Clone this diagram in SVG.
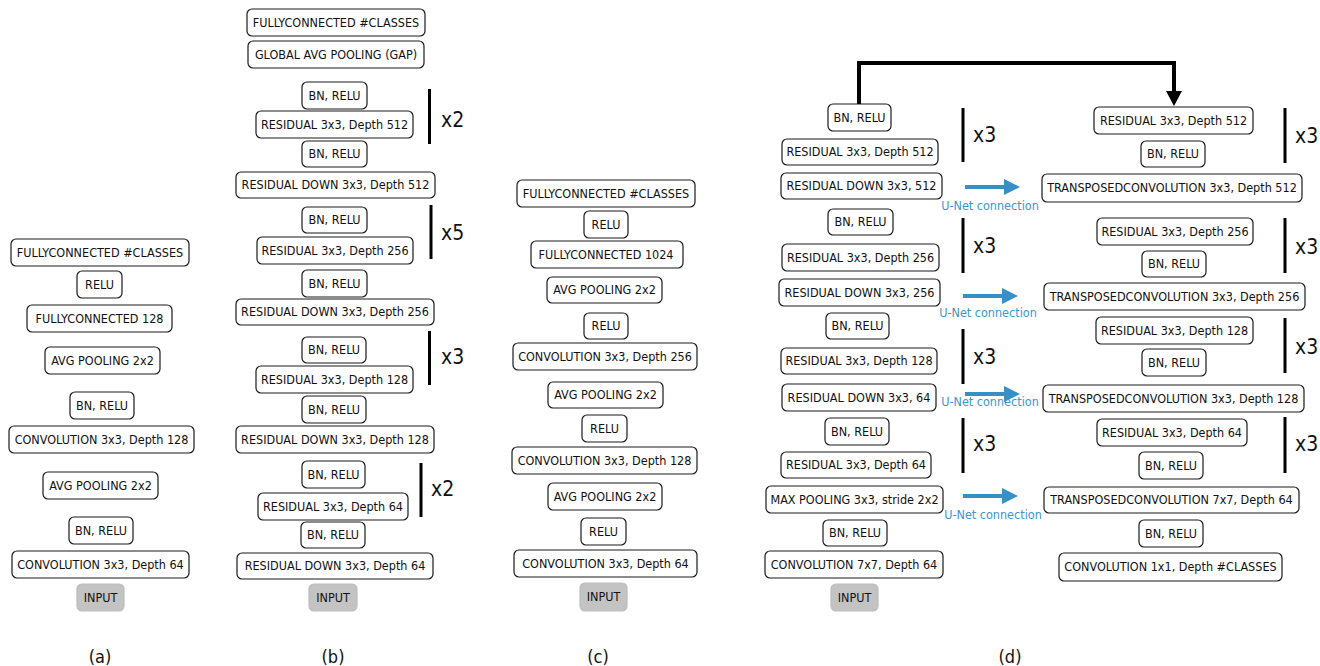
<svg xmlns="http://www.w3.org/2000/svg" width="1320" height="666" viewBox="0 0 1320 666">
<style>
.b rect{fill:#fff;stroke:#1a1a1a;stroke-width:1.2}
.b.in rect{fill:#c3c3c3;stroke:#bdbdbd}
text{font-family:"Liberation Sans",Arial,sans-serif;fill:#111}
.b text{font-family:"DejaVu Sans Condensed","DejaVu Sans",sans-serif;font-stretch:condensed;font-size:12.5px;text-anchor:middle}
.rep{font-family:"DejaVu Sans Condensed","DejaVu Sans",sans-serif;font-stretch:condensed;font-size:21px}
.cap{font-family:"DejaVu Sans Condensed","DejaVu Sans",sans-serif;font-stretch:condensed;font-size:18px;text-anchor:middle}
.un{font-family:"DejaVu Sans Condensed","DejaVu Sans",sans-serif;font-stretch:condensed;font-size:12.5px;fill:#3a96d0;text-anchor:middle}
.bar{stroke:#000;stroke-width:3}
.blue{stroke:#3590c8;stroke-width:4;fill:none}
</style>
<defs>
<marker id="bh" markerUnits="userSpaceOnUse" markerWidth="16" markerHeight="16" refX="6" refY="8" orient="auto">
<path d="M0,0 L16,8 L0,16 z" fill="#3590c8"/>
</marker>
</defs>
<rect width="1320" height="666" fill="#fff"/>

<!-- column a -->
<g id="a1" class="b"><rect x="11" y="239" width="178" height="27" rx="5"/><text x="100" y="256.5">FULLYCONNECTED #CLASSES</text></g>
<g id="a2" class="b"><rect x="77" y="271" width="45" height="27" rx="5"/><text x="99.5" y="288.5">RELU</text></g>
<g id="a3" class="b"><rect x="27" y="305" width="145" height="27" rx="5"/><text x="99.5" y="322.5">FULLYCONNECTED 128</text></g>
<g id="a4" class="b"><rect x="45" y="347" width="115" height="27" rx="5"/><text x="102.5" y="364.5">AVG POOLING 2x2</text></g>
<g id="a5" class="b"><rect x="70" y="392" width="64" height="27" rx="5"/><text x="102" y="409.5">BN, RELU</text></g>
<g id="a6" class="b"><rect x="9" y="426" width="185" height="27" rx="5"/><text x="101.5" y="443.5">CONVOLUTION 3x3, Depth 128</text></g>
<g id="a7" class="b"><rect x="43" y="472" width="115" height="27" rx="5"/><text x="100.5" y="489.5">AVG POOLING 2x2</text></g>
<g id="a8" class="b"><rect x="69" y="517" width="64" height="27" rx="5"/><text x="101" y="534.5">BN, RELU</text></g>
<g id="a9" class="b"><rect x="12" y="551" width="177" height="27" rx="5"/><text x="100.5" y="568.5">CONVOLUTION 3x3, Depth 64</text></g>
<g id="a10" class="b in"><rect x="77" y="584" width="47" height="27" rx="5"/><text x="100.5" y="601.5">INPUT</text></g>

<!-- column b -->
<g id="b1" class="b"><rect x="247" y="9" width="178" height="27" rx="5"/><text x="336" y="26.5">FULLYCONNECTED #CLASSES</text></g>
<g id="b2" class="b"><rect x="248" y="41" width="176" height="27" rx="5"/><text x="336" y="58.5">GLOBAL AVG POOLING (GAP)</text></g>
<g id="b3" class="b"><rect x="302" y="82" width="65" height="27" rx="5"/><text x="334.5" y="99.5">BN, RELU</text></g>
<g id="b4" class="b"><rect x="256" y="111" width="157" height="27" rx="5"/><text x="334.5" y="128.5">RESIDUAL 3x3, Depth 512</text></g>
<g id="b5" class="b"><rect x="302" y="141" width="65" height="26" rx="5"/><text x="334.5" y="158">BN, RELU</text></g>
<g id="b6" class="b"><rect x="236" y="172" width="199" height="26" rx="5"/><text x="335.5" y="189">RESIDUAL DOWN 3x3, Depth 512</text></g>
<g id="b7" class="b"><rect x="302" y="207" width="65" height="26" rx="5"/><text x="334.5" y="224">BN, RELU</text></g>
<g id="b8" class="b"><rect x="257" y="237" width="156" height="27" rx="5"/><text x="335" y="254.5">RESIDUAL 3x3, Depth 256</text></g>
<g id="b9" class="b"><rect x="302" y="270" width="65" height="27" rx="5"/><text x="334.5" y="287.5">BN, RELU</text></g>
<g id="b10" class="b"><rect x="236" y="299" width="198" height="26" rx="5"/><text x="335" y="316">RESIDUAL DOWN 3x3, Depth 256</text></g>
<g id="b11" class="b"><rect x="302" y="337" width="64" height="26" rx="5"/><text x="334" y="354">BN, RELU</text></g>
<g id="b12" class="b"><rect x="256" y="366" width="157" height="27" rx="5"/><text x="334.5" y="383.5">RESIDUAL 3x3, Depth 128</text></g>
<g id="b13" class="b"><rect x="302" y="396" width="64" height="27" rx="5"/><text x="334" y="413.5">BN, RELU</text></g>
<g id="b14" class="b"><rect x="236" y="426" width="198" height="27" rx="5"/><text x="335" y="443.5">RESIDUAL DOWN 3x3, Depth 128</text></g>
<g id="b15" class="b"><rect x="302" y="461" width="63" height="27" rx="5"/><text x="333.5" y="478.5">BN, RELU</text></g>
<g id="b16" class="b"><rect x="258" y="493" width="150" height="27" rx="5"/><text x="333" y="510.5">RESIDUAL 3x3, Depth 64</text></g>
<g id="b17" class="b"><rect x="301" y="522" width="64" height="26" rx="5"/><text x="333" y="539">BN, RELU</text></g>
<g id="b18" class="b"><rect x="237" y="553" width="196" height="26" rx="5"/><text x="335" y="570">RESIDUAL DOWN 3x3, Depth 64</text></g>
<g id="b19" class="b in"><rect x="309" y="584" width="48" height="27" rx="5"/><text x="333" y="601.5">INPUT</text></g>

<!-- column c -->
<g id="c1" class="b"><rect x="517" y="180" width="178" height="27" rx="5"/><text x="606" y="197.5">FULLYCONNECTED #CLASSES</text></g>
<g id="c2" class="b"><rect x="584" y="211" width="44" height="27" rx="5"/><text x="606" y="228.5">RELU</text></g>
<g id="c3" class="b"><rect x="531" y="241" width="152" height="27" rx="5"/><text x="606" y="258.5">FULLYCONNECTED 1024</text></g>
<g id="c4" class="b"><rect x="547" y="277" width="115" height="26" rx="5"/><text x="604.5" y="294">AVG POOLING 2x2</text></g>
<g id="c5" class="b"><rect x="584" y="313" width="44" height="26" rx="5"/><text x="606" y="330">RELU</text></g>
<g id="c6" class="b"><rect x="513" y="343" width="184" height="27" rx="5"/><text x="605" y="360.5">CONVOLUTION 3x3, Depth 256</text></g>
<g id="c7" class="b"><rect x="548" y="382" width="115" height="26" rx="5"/><text x="605.5" y="399">AVG POOLING 2x2</text></g>
<g id="c8" class="b"><rect x="582" y="415" width="45" height="27" rx="5"/><text x="604.5" y="432.5">RELU</text></g>
<g id="c9" class="b"><rect x="512" y="447" width="185" height="27" rx="5"/><text x="604.5" y="464.5">CONVOLUTION 3x3, Depth 128</text></g>
<g id="c10" class="b"><rect x="548" y="483" width="114" height="27" rx="5"/><text x="605" y="500.5">AVG POOLING 2x2</text></g>
<g id="c11" class="b"><rect x="581" y="518" width="45" height="27" rx="5"/><text x="603.5" y="535.5">RELU</text></g>
<g id="c12" class="b"><rect x="514" y="550" width="183" height="27" rx="5"/><text x="605.5" y="567.5">CONVOLUTION 3x3, Depth 64</text></g>
<g id="c13" class="b in"><rect x="580" y="583" width="47" height="28" rx="5"/><text x="603.5" y="601">INPUT</text></g>

<!-- column d, encoder -->
<g id="d1" class="b"><rect x="828" y="104" width="63" height="27" rx="5"/><text x="859.5" y="121.5">BN, RELU</text></g>
<g id="d2" class="b"><rect x="782" y="139" width="156" height="26" rx="5"/><text x="860" y="156">RESIDUAL 3x3, Depth 512</text></g>
<g id="d3" class="b"><rect x="781" y="173" width="161" height="26" rx="5"/><text x="861.5" y="190">RESIDUAL DOWN 3x3, 512</text></g>
<g id="d4" class="b"><rect x="828" y="209" width="65" height="26" rx="5"/><text x="860.5" y="226">BN, RELU</text></g>
<g id="d5" class="b"><rect x="782" y="244" width="157" height="27" rx="5"/><text x="860.5" y="261.5">RESIDUAL 3x3, Depth 256</text></g>
<g id="d6" class="b"><rect x="779" y="279" width="161" height="27" rx="5"/><text x="859.5" y="296.5">RESIDUAL DOWN 3x3, 256</text></g>
<g id="d7" class="b"><rect x="826" y="313" width="63" height="26" rx="5"/><text x="857.5" y="330">BN, RELU</text></g>
<g id="d8" class="b"><rect x="781" y="348" width="156" height="26" rx="5"/><text x="859" y="365">RESIDUAL 3x3, Depth 128</text></g>
<g id="d9" class="b"><rect x="782" y="384" width="154" height="27" rx="5"/><text x="859" y="401.5">RESIDUAL DOWN 3x3, 64</text></g>
<g id="d10" class="b"><rect x="825" y="418" width="64" height="27" rx="5"/><text x="857" y="435.5">BN, RELU</text></g>
<g id="d11" class="b"><rect x="781" y="452" width="150" height="26" rx="5"/><text x="856" y="469">RESIDUAL 3x3, Depth 64</text></g>
<g id="d12" class="b"><rect x="766" y="486" width="177" height="27" rx="5"/><text x="854.5" y="503.5">MAX POOLING 3x3, stride 2x2</text></g>
<g id="d13" class="b"><rect x="823" y="520" width="64" height="26" rx="5"/><text x="855" y="537">BN, RELU</text></g>
<g id="d14" class="b"><rect x="765" y="551" width="178" height="27" rx="5"/><text x="854" y="568.5">CONVOLUTION 7x7, Depth 64</text></g>
<g id="d15" class="b in"><rect x="831" y="584" width="47" height="27" rx="5"/><text x="854.5" y="601.5">INPUT</text></g>

<!-- column d, decoder -->
<g id="r1" class="b"><rect x="1094" y="107" width="159" height="27" rx="5"/><text x="1173.5" y="124.5">RESIDUAL 3x3, Depth 512</text></g>
<g id="r2" class="b"><rect x="1141" y="141" width="64" height="26" rx="5"/><text x="1173" y="158">BN, RELU</text></g>
<g id="r3" class="b"><rect x="1042" y="174" width="260" height="28" rx="5"/><text x="1172" y="192">TRANSPOSEDCONVOLUTION 3x3, Depth 512</text></g>
<g id="r4" class="b"><rect x="1097" y="218" width="156" height="27" rx="5"/><text x="1175" y="235.5">RESIDUAL 3x3, Depth 256</text></g>
<g id="r5" class="b"><rect x="1142" y="251" width="64" height="26" rx="5"/><text x="1174" y="268">BN, RELU</text></g>
<g id="r6" class="b"><rect x="1044" y="283" width="261" height="27" rx="5"/><text x="1174.5" y="300.5">TRANSPOSEDCONVOLUTION 3x3, Depth 256</text></g>
<g id="r7" class="b"><rect x="1096" y="317" width="157" height="27" rx="5"/><text x="1174.5" y="334.5">RESIDUAL 3x3, Depth 128</text></g>
<g id="r8" class="b"><rect x="1142" y="349" width="64" height="27" rx="5"/><text x="1174" y="366.5">BN, RELU</text></g>
<g id="r9" class="b"><rect x="1043" y="385" width="261" height="27" rx="5"/><text x="1173.5" y="402.5">TRANSPOSEDCONVOLUTION 3x3, Depth 128</text></g>
<g id="r10" class="b"><rect x="1097" y="419" width="150" height="27" rx="5"/><text x="1172" y="436.5">RESIDUAL 3x3, Depth 64</text></g>
<g id="r11" class="b"><rect x="1139" y="452" width="64" height="27" rx="5"/><text x="1171" y="469.5">BN, RELU</text></g>
<g id="r12" class="b"><rect x="1044" y="487" width="255" height="26" rx="5"/><text x="1171.5" y="504">TRANSPOSEDCONVOLUTION 7x7, Depth 64</text></g>
<g id="r13" class="b"><rect x="1139" y="520" width="64" height="27" rx="5"/><text x="1171" y="537.5">BN, RELU</text></g>
<g id="r14" class="b"><rect x="1059" y="553" width="223" height="28" rx="5"/><text x="1170.5" y="571">CONVOLUTION 1x1, Depth #CLASSES</text></g>

<!-- repeat bars and counts -->
<g id="repeats">
<line class="bar" x1="429.5" y1="89" x2="429.5" y2="144"/><text class="rep" x="441" y="127">x2</text>
<line class="bar" x1="431" y1="205" x2="431" y2="259"/><text class="rep" x="441" y="240">x5</text>
<line class="bar" x1="429.5" y1="331" x2="429.5" y2="385"/><text class="rep" x="441" y="364">x3</text>
<line class="bar" x1="421" y1="463" x2="421" y2="517"/><text class="rep" x="431" y="496">x2</text>
<line class="bar" x1="963" y1="108" x2="963" y2="162"/><text class="rep" x="973" y="142">x3</text>
<line class="bar" x1="963" y1="218" x2="963" y2="273"/><text class="rep" x="973" y="253">x3</text>
<line class="bar" x1="963" y1="329" x2="963" y2="384"/><text class="rep" x="973" y="364">x3</text>
<line class="bar" x1="963" y1="418" x2="963" y2="473"/><text class="rep" x="973" y="451">x3</text>
<line class="bar" x1="1285" y1="108" x2="1285" y2="163"/><text class="rep" x="1295" y="143">x3</text>
<line class="bar" x1="1285" y1="218" x2="1285" y2="273"/><text class="rep" x="1295" y="254">x3</text>
<line class="bar" x1="1285" y1="318" x2="1285" y2="373"/><text class="rep" x="1295" y="354">x3</text>
<line class="bar" x1="1285" y1="417" x2="1285" y2="473"/><text class="rep" x="1295" y="451">x3</text>
</g>

<!-- connectors -->
<g id="connectors">
<path d="M859,104 V63 H1174 V93" fill="none" stroke="#000" stroke-width="4"/>
<polygon points="1166,91 1182,91 1174,106" fill="#000"/>
<line class="blue" x1="965" y1="187" x2="1010" y2="187" marker-end="url(#bh)"/>
<line class="blue" x1="963" y1="296" x2="1008" y2="296" marker-end="url(#bh)"/>
<line class="blue" x1="965" y1="394" x2="1010" y2="394" marker-end="url(#bh)"/>
<line class="blue" x1="963" y1="496" x2="1008" y2="496" marker-end="url(#bh)"/>
<text class="un" x="990" y="210">U-Net connection</text>
<text class="un" x="988" y="317">U-Net connection</text>
<text class="un" x="990" y="406">U-Net connection</text>
<text class="un" x="993" y="519">U-Net connection</text>
</g>

<!-- captions -->
<g id="captions">
<text class="cap" x="100" y="663">(a)</text>
<text class="cap" x="333" y="663">(b)</text>
<text class="cap" x="598" y="663">(c)</text>
<text class="cap" x="1010" y="663">(d)</text>
</g>
</svg>
